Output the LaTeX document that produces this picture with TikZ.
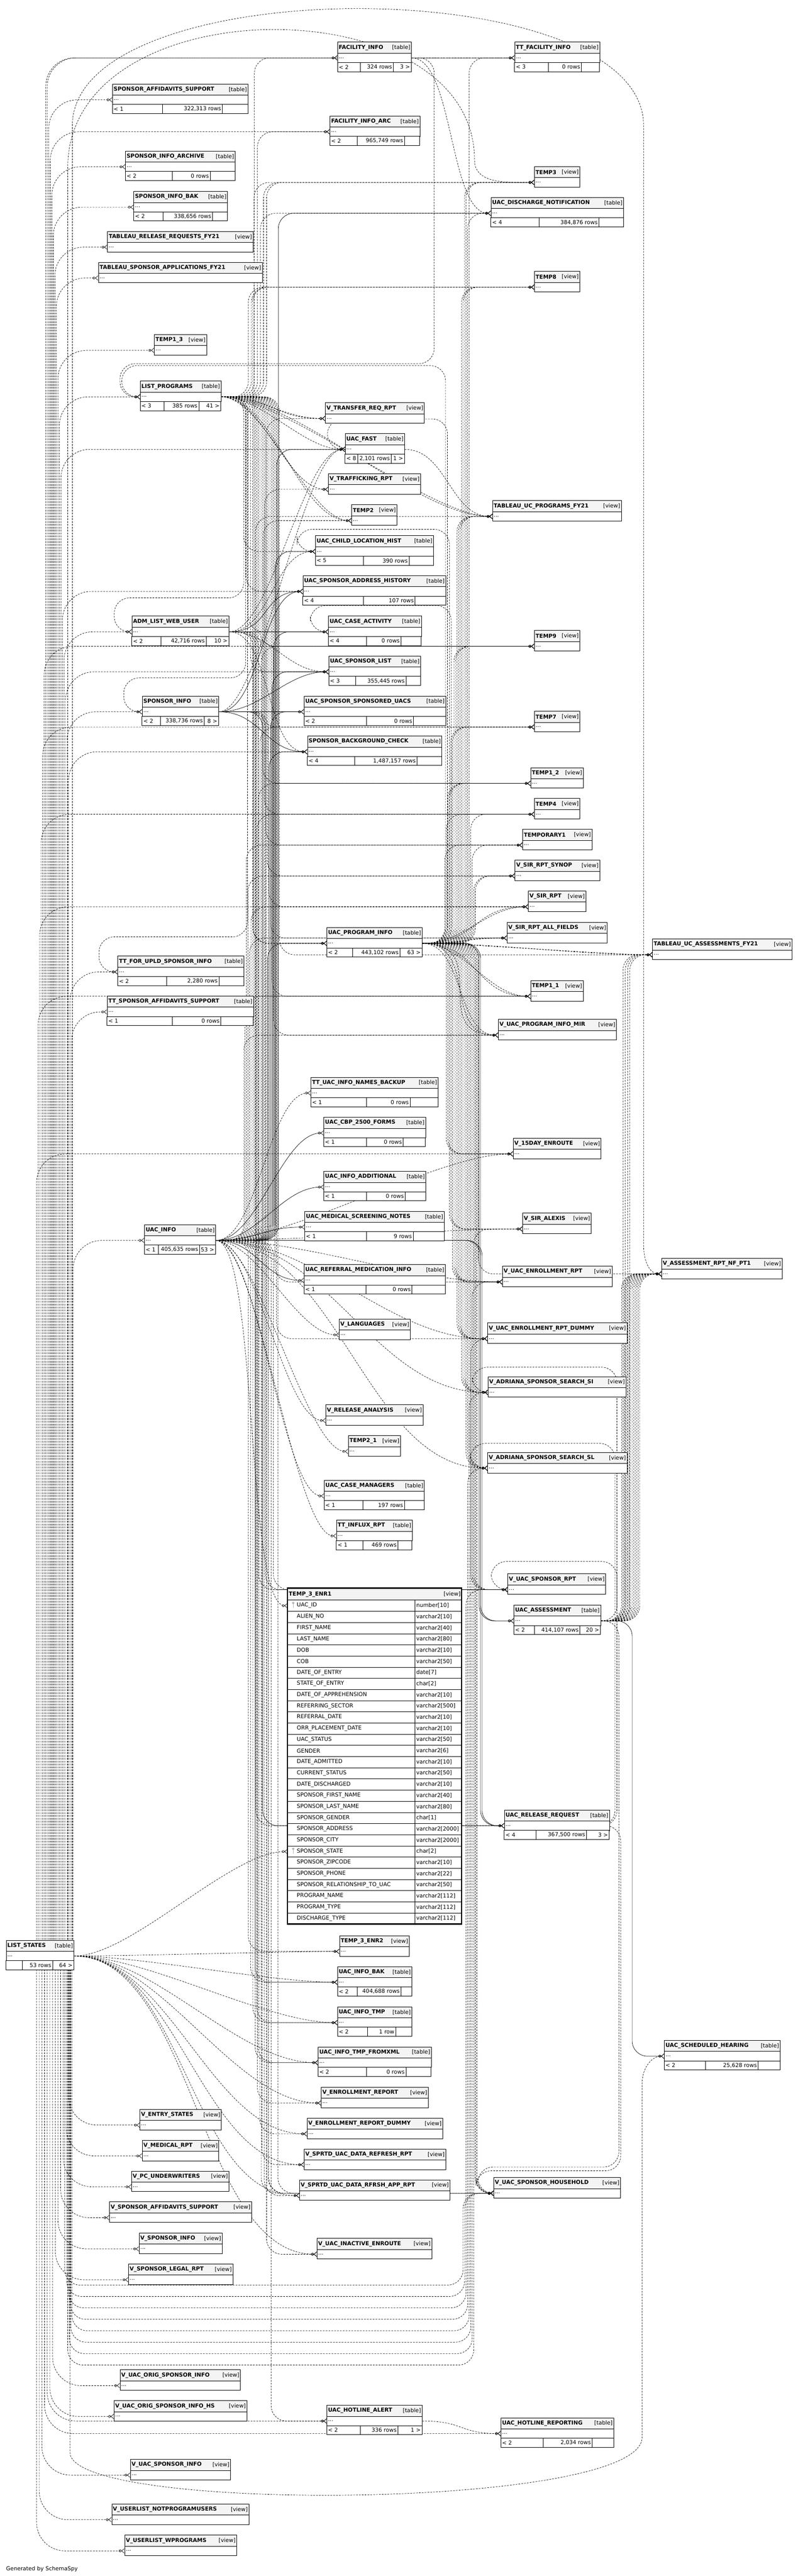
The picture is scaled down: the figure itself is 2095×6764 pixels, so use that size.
\documentclass[tikz,border=0pt]{standalone}
\usepackage{fontspec}
\setmainfont{DejaVu Sans}
\usetikzlibrary{arrows.meta,backgrounds}
\definecolor{hdrgray}{HTML}{F4F4F4}
\definecolor{keygray}{HTML}{B4B4B4}
\tikzset{
  tbl/.style={draw=black, line width=1pt},
  hdrbox/.style={tbl, fill=hdrgray, inner sep=0pt},
  rowbox/.style={tbl, fill=white, inner sep=0pt},
  fkpath/.style={out=0, in=180, distance=#1pt},
  fkline/.style={draw=black, line width=0.9pt, -{Circle[open,length=6.5pt,width=6.5pt]Straight Barb[reversed,length=7pt,width=12pt]}},
  implied/.style={fkline, dash pattern=on 4.5pt off 3pt},
  lanecorner/.style={rounded corners=40pt},
  upcorner/.style={rounded corners=75pt},
}
% direct link, lane link, link back round, LIST_STATES up/down links
\newcommand\fkd[4][implied]{\draw[#1] (#2.east) to[fkpath=#3] (#4.west);}
\newcommand\fkl[4][implied]{\coordinate (ln) at (#3,0);\draw[#1,lanecorner] (#2.east) -| (ln |- #4.west) -- (#4.west);}
\newcommand\fkback[6][implied]{\coordinate (ln) at (#3,#4);\coordinate (lb) at (#5,0);\draw[#1,lanecorner] (#2.east) -| (ln) -| (lb |- #6.west) -- (#6.west);}
\newcommand\fkup[3][implied]{\coordinate (ln) at (#2,0);\draw[#1,upcorner] (ln |- ls.north) |- (#3.west);}
\newcommand\fkdn[3][implied]{\coordinate (ln) at (#2,0);\draw[#1,upcorner] (ln |- ls.south) |- (#3.west);}
\newcommand\fkvia[5][implied]{\coordinate (ln) at (#2,0);\coordinate (kk) at (#3,#4);\draw[#1,lanecorner] (ln |- ls.south) |- (kk) |- (#5.west);}
\begin{document}
\begin{tikzpicture}[x=1pt, y=-1pt, font=\fontsize{14.4}{17}\selectfont]
\useasboundingbox (0,0) rectangle (2095,6764);
% tables
\foreach \tid/\xa/\ya/\xb/\ttl/\da/\db/\lft/\rws/\rgt in {
 fi/886/110/1080/FACILITY\_INFO/946/1033/< 2/324 rows/3 >,
 tfi/1351/110/1574/TT\_FACILITY\_INFO/1440/1527/< 3/0 rows/{},
 sas/295/220/651/SPONSOR\_AFFIDAVITS\_SUPPORT/427/584/< 1/322{,}313 rows/{},
 fia/866/304/1102/FACILITY\_INFO\_ARC/938/1062/< 2/965{,}749 rows/{},
 sia/329/396/617/SPONSOR\_INFO\_ARCHIVE/452/552/< 2/0 rows/{},
 sib/351/502/597/SPONSOR\_INFO\_BAK/428/558/< 2/338{,}656 rows/{},
 udn/1289/518/1637/UAC\_DISCHARGE\_NOTIFICATION/1416/1573/< 4/384{,}876 rows/{},
 lp/368/1000/580/LIST\_PROGRAMS/431/522/< 3/385 rows/41 >,
 ufa/906/1138/1062/UAC\_FAST/939/1027/< 8/2{,}101 rows/1 >,
 uclh/828/1406/1138/UAC\_CHILD\_LOCATION\_HIST/954/1074/< 5/390 rows/{},
 usah/795/1511/1170/UAC\_SPONSOR\_ADDRESS\_HISTORY/954/1090/< 4/107 rows/{},
 alwu/346/1617/601/ADM\_LIST\_WEB\_USER/422/541/< 2/42{,}716 rows/10 >,
 uca/862/1617/1106/UAC\_CASE\_ACTIVITY/962/1053/< 4/0 rows/{},
 usl/863/1722/1104/UAC\_SPONSOR\_LIST/934/1066/< 3/355{,}445 rows/{},
 si/373/1827/574/SPONSOR\_INFO/421/536/< 2/338{,}736 rows/8 >,
 ussu/798/1827/1170/UAC\_SPONSOR\_SPONSORED\_UACS/963/1086/< 2/0 rows/{},
 sbc/807/1932/1160/SPONSOR\_BACKGROUND\_CHECK/931/1095/< 4/1{,}487{,}157 rows/{},
 upi/858/2435/1108/UAC\_PROGRAM\_INFO/926/1050/< 2/443{,}102 rows/63 >,
 tfus/309/2510/640/TT\_FOR\_UPLD\_SPONSOR\_INFO/437/575/< 2/2{,}280 rows/{},
 tsas/281/2615/665/TT\_SPONSOR\_AFFIDAVITS\_SUPPORT/452/580/< 1/0 rows/{},
 tuinb/816/2828/1150/TT\_UAC\_INFO\_NAMES\_BACKUP/962/1077/< 1/0 rows/{},
 ucbp/850/2933/1117/UAC\_CBP\_2500\_FORMS/963/1059/< 1/0 rows/{},
 uia/850/3075/1118/UAC\_INFO\_ADDITIONAL/962/1064/< 1/0 rows/{},
 umsn/800/3180/1166/UAC\_MEDICAL\_SCREENING\_NOTES/962/1085/< 1/9 rows/{},
 ui/379/3215/566/UAC\_INFO/416/524/< 1/405{,}635 rows/53 >,
 urmi/798/3320/1169/UAC\_REFERRAL\_MEDICATION\_INFO/961/1082/< 1/0 rows/{},
 ucm/851/3886/1114/UAC\_CASE\_MANAGERS/953/1062/< 1/197 rows/{},
 tir/883/3991/1082/TT\_INFLUX\_RPT/953/1045/< 1/469 rows/{},
 uas/1349/4214/1577/UAC\_ASSESSMENT/1404/1523/< 2/414{,}107 rows/20 >,
 urr/1324/4752/1600/UAC\_RELEASE\_REQUEST/1407/1540/< 4/367{,}500 rows/3 >,
 ls/16/5094/194/LIST\_STATES/59/138/{}/53 rows/64 >,
 uib/886/5163/1081/UAC\_INFO\_BAK/938/1053/< 2/404{,}688 rows/{},
 uit/886/5269/1081/UAC\_INFO\_TMP/965/1039/< 2/1 row/{},
 uitx/835/5374/1132/UAC\_INFO\_TMP\_FROMXML/963/1066/< 2/0 rows/{},
 ush/1744/5357/2048/UAC\_SCHEDULED\_HEARING/1853/1991/< 2/25{,}628 rows/{},
 uha/858/6315/1108/UAC\_HOTLINE\_ALERT/946/1045/< 2/336 rows/1 >,
 uhr/1315/6348/1611/UAC\_HOTLINE\_REPORTING/1427/1555/< 2/2{,}034 rows/{}}{
  \pgfmathsetmacro\boxw{\xb-\xa}
  \node[hdrbox, anchor=north west, minimum width=\boxw pt, minimum height=29pt] (\tid-h) at (\xa,\ya) {};
  \node[anchor=west] at (\tid-h.west) {\bfseries\ttl};
  \node[anchor=east] at (\tid-h.east) {[table]};
  \node[rowbox, anchor=north west, minimum width=\boxw pt, minimum height=25pt] (\tid) at (\xa,\ya+29) {};
  \node[anchor=west] at (\tid.west) {...};
  \draw[tbl, fill=white] (\xa,\ya+54) rectangle (\xb,\ya+78);
  \draw[tbl] (\da,\ya+54) -- (\da,\ya+78) (\db,\ya+54) -- (\db,\ya+78);
  \node[anchor=west] at (\xa,\ya+66) {\lft};
  \node[anchor=east] at (\db,\ya+66) {\rws};
  \node[anchor=east] at (\xb,\ya+66) {\rgt};
}
% views
\foreach \tid/\xa/\ya/\xb/\ttl in {
 trr/282/607/664/TABLEAU\_RELEASE\_REQUESTS\_FY21,
 t3/1403/437/1522/TEMP3,
 tsa/258/688/688/TABLEAU\_SPONSOR\_APPLICATIONS\_FY21,
 t8/1403/712/1522/TEMP8,
 t13/405/878/542/TEMP1\_3,
 vtrr/854/1057/1114/V\_TRANSFER\_REQ\_RPT,
 vtr/862/1243/1104/V\_TRAFFICKING\_RPT,
 t2/923/1325/1042/TEMP2,
 tucp/1293/1314/1631/TABLEAU\_UC\_PROGRAMS\_FY21,
 t9/1403/1655/1522/TEMP9,
 t7/1403/1867/1522/TEMP7,
 t12/1393/2015/1531/TEMP1\_2,
 t4/1403/2096/1522/TEMP4,
 tmp1/1372/2177/1554/TEMPORARY1,
 vsrs/1352/2258/1574/V\_SIR\_RPT\_SYNOP,
 vsr/1387/2339/1538/V\_SIR\_RPT,
 vsraf/1331/2421/1594/V\_SIR\_RPT\_ALL\_FIELDS,
 tuca/1713/2465/2079/TABLEAU\_UC\_ASSESSMENTS\_FY21,
 t11/1393/2574/1531/TEMP1\_1,
 vupim/1308/2676/1618/V\_UAC\_PROGRAM\_INFO\_MIR,
 v15d/1347/2988/1578/V\_15DAY\_ENROUTE,
 vsa/1372/3185/1552/V\_SIR\_ALEXIS,
 varn/1737/3303/2053/V\_ASSESSMENT\_RPT\_NF\_PT1,
 vuer/1319/3324/1607/V\_UAC\_ENROLLMENT\_RPT,
 vlang/890/3463/1077/V\_LANGUAGES,
 vuerd/1280/3473/1646/V\_UAC\_ENROLLMENT\_RPT\_DUMMY,
 vassi/1281/3614/1643/V\_ADRIANA\_SPONSOR\_SEARCH\_SI,
 vra/855/3688/1110/V\_RELEASE\_ANALYSIS,
 t21/914/3769/1051/TEMP2\_1,
 vassl/1280/3813/1646/V\_ADRIANA\_SPONSOR\_SEARCH\_SL,
 vusr/1333/4132/1590/V\_UAC\_SPONSOR\_RPT,
 te2/891/5082/1074/TEMP\_3\_ENR2,
 ver/843/5480/1124/V\_ENROLLMENT\_REPORT,
 ves/367/5538/581/V\_ENTRY\_STATES,
 verd/806/5561/1162/V\_ENROLLMENT\_REPORT\_DUMMY,
 vmr/373/5619/574/V\_MEDICAL\_RPT,
 vsudr/798/5642/1170/V\_SPRTD\_UAC\_DATA\_REFRESH\_RPT,
 vpu/345/5700/601/V\_PC\_UNDERWRITERS,
 vsudra/786/5723/1181/V\_SPRTD\_UAC\_DATA\_RFRSH\_APP\_RPT,
 vush/1296/5717/1629/V\_UAC\_SPONSOR\_HOUSEHOLD,
 vsas/287/5781/660/V\_SPONSOR\_AFFIDAVITS\_SUPPORT,
 vsi/365/5863/583/V\_SPONSOR\_INFO,
 vuie/832/5877/1133/V\_UAC\_INACTIVE\_ENROUTE,
 vslr/337/5944/611/V\_SPONSOR\_LEGAL\_RPT,
 vuosi/315/6222/631/V\_UAC\_ORIG\_SPONSOR\_INFO,
 vuosih/299/6303/648/V\_UAC\_ORIG\_SPONSOR\_INFO\_HS,
 vusi/342/6457/605/V\_UAC\_SPONSOR\_INFO,
 vun/293/6574/653/V\_USERLIST\_NOTPROGRAMUSERS,
 vuw/327/6656/621/V\_USERLIST\_WPROGRAMS}{
  \pgfmathsetmacro\boxw{\xb-\xa}
  \node[hdrbox, anchor=north west, minimum width=\boxw pt, minimum height=29pt] (\tid-h) at (\xa,\ya) {};
  \node[anchor=west] at (\tid-h.west) {\bfseries\ttl};
  \node[anchor=east] at (\tid-h.east) {[view]};
  \node[rowbox, anchor=north west, minimum width=\boxw pt, minimum height=25pt] (\tid) at (\xa,\ya+29) {};
  \node[anchor=west] at (\tid.west) {...};
}
% TEMP_3_ENR1 with its columns
\node[hdrbox, anchor=north west, minimum width=457pt, minimum height=31pt] (t3e-h) at (755,4170) {};
\node[anchor=west] at (t3e-h.west) {\bfseries TEMP\_3\_ENR1};
\node[anchor=east] at (t3e-h.east) {[view]};
\foreach \nm/\ty [count=\i from 0] in {UAC\_ID/number[10], ALIEN\_NO/varchar2[10], FIRST\_NAME/varchar2[40],
 LAST\_NAME/varchar2[80], DOB/varchar2[10], COB/varchar2[50], DATE\_OF\_ENTRY/date[7], STATE\_OF\_ENTRY/char[2],
 DATE\_OF\_APPREHENSION/varchar2[10], REFERRING\_SECTOR/varchar2[500], REFERRAL\_DATE/varchar2[10],
 ORR\_PLACEMENT\_DATE/varchar2[10], UAC\_STATUS/varchar2[50], GENDER/varchar2[6], DATE\_ADMITTED/varchar2[10],
 CURRENT\_STATUS/varchar2[50], DATE\_DISCHARGED/varchar2[10], SPONSOR\_FIRST\_NAME/varchar2[40],
 SPONSOR\_LAST\_NAME/varchar2[80], SPONSOR\_GENDER/char[1], SPONSOR\_ADDRESS/varchar2[2000],
 SPONSOR\_CITY/varchar2[2000], SPONSOR\_STATE/char[2], SPONSOR\_ZIPCODE/varchar2[10], SPONSOR\_PHONE/varchar2[22],
 SPONSOR\_RELATIONSHIP\_TO\_UAC/varchar2[50], PROGRAM\_NAME/varchar2[112], PROGRAM\_TYPE/varchar2[112],
 DISCHARGE\_TYPE/varchar2[112]}{
  \node[rowbox, anchor=north west, minimum width=457pt, minimum height=29.34pt] (t3e-r\i) at (755,4201+29.34*\i) {};
  \draw[tbl] (1090,4201+29.34*\i) -- ++(0,29.34);
  \node[anchor=west] at (776,4215.67+29.34*\i) {\nm};
  \node[anchor=west, inner sep=2pt] at (1091,4215.67+29.34*\i) {\ty};
}
\draw[line width=3pt] (755,4170) rectangle (1212,5052);
\foreach \i in {0,22}{
  \fill[keygray] (770,4209+29.34*\i) circle (3pt);
  \draw[keygray, line width=1.6pt] (770,4209+29.34*\i) -- ++(0,13);
}
\node[anchor=west, inner sep=0pt] (gen) at (16,6746) {Generated by SchemaSpy};

\begin{scope}[on background layer]
\fill[white] (0,0) rectangle (2095,6764);
% UAC_INFO
\foreach \tgt/\lx in {udn/731,ufa/727,uclh/723,uca/719,usl/715,ussu/711,sbc/707,upi/703}{\fkl[fkline]{ui}{\lx}{\tgt}}
\foreach \tgt in {ucbp,uia,umsn,urmi}{\fkd[fkline]{ui}{110}{\tgt}}
\foreach \tgt/\lx in {uas/1262,urr/1266}{\fkl[fkline]{ui}{\lx}{\tgt}}
\foreach \tgt/\lx in {vtrr/699,vtr/695,t2/691,t9/687,t7/683,t12/679,t4/675,tucp/671,t3/667,t8/663,vsr/659,vsraf/655,vsrs/651,tmp1/647,t11/643,vupim/640}{\fkl{ui}{\lx}{\tgt}}
\foreach \tgt/\dd in {tuinb/110,v15d/200,vsa/220,vuer/240,vlang/110,vuerd/260,vra/110,t21/110,ucm/110,tir/110,t3e-r0/110,vassi/300,vassl/320}{\fkd{ui}{\dd}{\tgt}}
\foreach \tgt/\lx in {te2/652,uib/658,uit/664,uitx/670,ver/676,verd/682,vsudr/688,vsudra/694,vuie/700,vush/706,uha/712,vusr/718}{\fkl{ui}{\lx}{\tgt}}
% LIST_PROGRAMS
\foreach \tgt/\lx in {fi/668,fia/676,udn/684,t3/692,t8/660,t3/700,t8/652}{\fkl{lp}{\lx}{\tgt}}
\foreach \tgt/\dd in {vtrr/110,vtrr/140,vtr/110,t2/110,t2/140,ufa/110,tucp/160,tucp/200}{\fkd{lp}{\dd}{\tgt}}
\foreach \tgt/\lx in {uclh/640,usah/646,uca/652,usl/658,upi/664,uib/670,uit/674,uitx/678,t9/682,t7/686,t12/690,t4/694,tmp1/698,vsrs/702,vsr/706,vsraf/710,t11/714,vupim/718,vuer/722,vuerd/726,vush/730,tuca/734}{\fkl{lp}{\lx}{\tgt}}
\foreach \tgt/\lx/\ky/\lb in {alwu/640/1570/300,si/645/1780/325,tfus/650/2460/260}{\fkback{lp}{\lx}{\ky}{\lb}{\tgt}}
% UAC_PROGRAM_INFO
\foreach \tgt/\lx in {tfi/1232,udn/1228,t3/1224,t3/1220,t8/1216,t8/1212,tucp/1208,tucp/1204,tucp/1200,t9/1196,t9/1192,t7/1188,t7/1184,t12/1180,t12/1176,t4/1172,t4/1236,tmp1/1168,tmp1/1240,vsrs/1244,vsrs/1248}{\fkl{upi}{\lx}{\tgt}}
\foreach \tgt/\dd in {vsr/110,vsr/150,vsraf/110,vsraf/150,tuca/110,tuca/200,t11/110,t11/150,vupim/110,vupim/150,vupim/190}{\fkd{upi}{\dd}{\tgt}}
\foreach \tgt/\lx in {v15d/1172,v15d/1176,vsa/1180,vsa/1184,vuer/1188,vuer/1192,vuer/1196,vuerd/1200,vuerd/1204,vuerd/1208,vassi/1212,vassi/1216,vassi/1220,vassl/1224,vassl/1228,vassl/1232,vusr/1236,vusr/1240,vusr/1244,vush/1248,vush/1252,varn/1256}{\fkl{upi}{\lx}{\tgt}}
\foreach \tgt/\lx in {uas/1258,urr/1262}{\fkl[fkline]{upi}{\lx}{\tgt}}
\foreach \tgt/\lx/\ky/\lb in {lp/1170/960/320,ufa/1175/1100/860,uclh/1180/1390/780,uca/1185/1590/815}{\fkback{upi}{\lx}{\ky}{\lb}{\tgt}}
% ADM_LIST_WEB_USER, SPONSOR_INFO
\foreach \tgt in {usah,uca}{\fkd[fkline]{alwu}{110}{\tgt}}
\foreach \tgt in {usl,sbc,ufa,uclh}{\fkd{alwu}{110}{\tgt}}
\foreach \tgt/\lx in {upi/665,urr/672,vusr/679,vush/686}{\fkl{alwu}{\lx}{\tgt}}
\foreach \tgt in {usah,usl,ussu,sbc}{\fkd[fkline]{si}{110}{\tgt}}
\fkl[fkline]{si}{690}{urr}
\fkd{si}{110}{ufa}
\foreach \tgt/\lx in {vusr/697,vush/704}{\fkl{si}{\lx}{\tgt}}
% small parents
\foreach \tgt in {tfi,udn}{\fkd{fi}{110}{\tgt}}
\fkback{fi}{1140}{955}{315}{lp}
\fkd{ufa}{110}{tucp}
\fkl[fkline]{uas}{1660}{ush}
\foreach \lx in {1636,1642,1648,1654}{\fkl{uas}{\lx}{tuca}}
\foreach \lx in {1632,1636,...,1680}{\fkl{uas}{\lx}{varn}}
\fkback{uas}{1620}{4100}{1290}{vusr}
\fkback{uas}{1625}{5690}{1255}{vush}
\foreach \tgt/\lx/\ky/\lb in {vassi/1620/3590/1240,vassl/1615/3790/1235,vush/1630/5700/1250}{\fkback{urr}{\lx}{\ky}{\lb}{\tgt}}
\fkd{uha}{110}{uhr}
% LIST_STATES
\foreach \tgt/\lx in {v15d/96,t11/100,vsr/104,t4/108,t7/112,t9/116,tfi/120,fi/124,sas/128,fia/132,sia/136,sib/140,trr/144,tsa/148,t13/152,lp/156,ufa/160,usah/164,alwu/168,usl/172,si/176,sbc/180,tfus/184,tsas/188,ui/192}{\fkup{\lx}{\tgt}}
\foreach \tgt/\dd in {te2/150,uib/170,uit/190,uitx/210,ver/230,verd/250,vsudr/270,vsudra/290,vuie/310,t3e-r22/150}{\fkd{ls}{\dd}{\tgt}}
\foreach \tgt/\lx in {vuw/96,vun/103,vusi/110,uhr/117,uha/124,vuosih/131,vuosi/138,vslr/145,vsi/152,vsas/159,vpu/166,vmr/173,ves/180}{\fkdn{\lx}{\tgt}}
\foreach \tgt/\lx/\kx/\ky in {vush/170/1216/6000,vush/175/1220/6030,vusr/180/1224/6060,vassl/185/1228/6090,vassi/189/1232/6120,vuerd/186/1236/6150,vuer/182/1240/6180,vsa/178/1244/6210}{\fkvia{\lx}{\kx}{\ky}{\tgt}}
\coordinate (ln) at (190,0);
\draw[implied] (ln |- ls.north) -- (190,330) .. controls (190,-80) and (1690,-80) .. (1690,330) -- (1690,3270) to[out=-90,in=180] (varn.west);
\coordinate (ln) at (178,0);
\draw[implied] (ln |- ls.north) -- (178,440) .. controls (178,-40) and (1246,-40) .. (1246,420) to[out=-90,in=180] (t3.west);
\coordinate (ln) at (184,0);
\draw[implied] (ln |- ls.south) -- (184,6440) .. controls (184,6600) and (1686,6590) .. (1686,6400) -- (1686,5470) to[out=90,in=180] (ush.west);
\end{scope}
\end{tikzpicture}
\end{document}
